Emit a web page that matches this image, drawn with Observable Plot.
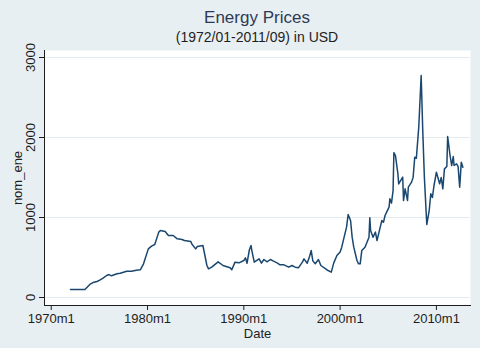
<!DOCTYPE html>
<html>
<head>
<meta charset="utf-8">
<script src="https://cdn.jsdelivr.net/npm/d3@7"></script>
<script src="https://cdn.jsdelivr.net/npm/@observablehq/plot@0.6"></script>
<style>
  html, body { margin: 0; padding: 0; background: #e8eff2; }
  #chart { position: relative; width: 480px; height: 348px; overflow: hidden;
           font-family: "Liberation Sans", Arial, Helvetica, sans-serif; }
  .title { position: absolute; left: 0; width: 514px; text-align: center;
           top: 8px; font-size: 17px; color: #2e3a55; line-height: 20px; }
  .subtitle { position: absolute; left: 0; width: 514px; text-align: center;
              top: 29px; font-size: 14px; color: #1e1e1e; line-height: 17px; }
  #plot { position: absolute; left: 0; top: 48px; }
  #plot svg { overflow: visible; }
</style>
</head>
<body>
<div id="chart">
  <div class="title">Energy Prices</div>
  <div class="subtitle">(1972/01-2011/09) in USD</div>
  <div id="plot"></div>
</div>
<script>
// Monthly dates (Stata %tm style) and nominal energy price index
const months = [
  "1972m1","1973m7","1974m2","1974m5","1974m10","1975m2","1975m6","1975m10","1976m1","1976m4",
  "1976m11","1977m3","1977m11","1978m5","1978m11","1979m4","1979m8","1980m2","1980m6","1980m10",
  "1981m3","1981m5","1981m11","1982m3","1982m9","1983m2","1983m8","1983m11","1984m7","1984m8",
  "1985m1","1985m3","1985m10","1986m3","1986m5","1986m9","1987m5","1987m11","1988m8","1988m10",
  "1989m2","1989m7","1990m1","1990m3","1990m5","1990m8","1990m10","1990m11","1991m2","1991m8",
  "1991m11","1992m2","1992m6","1992m10","1993m2","1993m7","1993m10","1994m3","1994m9","1995m1",
  "1995m5","1995m9","1996m2","1996m4","1996m8","1996m11","1997m1","1997m3","1997m6","1997m10",
  "1998m1","1998m7","1998m10","1999m2","1999m5","1999m9","2000m1","2000m3","2000m6","2000m9",
  "2000m11","2001m2","2001m4","2001m6","2001m10","2001m12","2002m2","2002m4","2002m8","2003m1",
  "2003m2","2003m3","2003m6","2003m9","2003m11","2004m3","2004m5","2004m7","2004m9","2004m11",
  "2005m2","2005m3","2005m5","2005m7","2005m8","2005m10","2006m1","2006m2","2006m4","2006m7",
  "2006m8","2006m10","2007m1","2007m2","2007m6","2007m8","2007m10","2007m12","2008m3","2008m6",
  "2008m8","2008m10","2009m1","2009m4","2009m6","2009m8","2009m10","2010m1","2010m2","2010m5",
  "2010m7","2010m9","2010m11","2011m2","2011m3","2011m6","2011m8","2011m10","2011m11","2012m2",
  "2012m4","2012m6","2012m8","2012m10"
];
const nomEne = [
  100, 100, 171, 187, 200, 221, 246, 275, 287, 271,
  296, 304, 329, 329, 341, 346, 421, 608, 642, 662,
  817, 837, 825, 775, 775, 733, 725, 712, 700, 671,
  608, 637, 650, 400, 358, 379, 446, 400, 371, 346,
  442, 433, 462, 496, 429, 600, 650, 587, 442, 483,
  429, 475, 446, 475, 454, 429, 408, 408, 379, 400,
  379, 371, 442, 483, 429, 517, 587, 458, 421, 475,
  400, 358, 337, 317, 430, 525, 570, 629, 754, 879,
  1037, 962, 754, 629, 462, 421, 421, 587, 629, 754,
  996, 837, 754, 817, 712, 879, 962, 940, 1025, 1067,
  1129, 1233, 1180, 1337, 1810, 1770, 1546, 1420, 1454, 1504,
  1212, 1358, 1212, 1379, 1442, 1504, 1754, 1740, 2129, 2775,
  2080, 1504, 912, 1087, 1296, 1250, 1400, 1567, 1530, 1421,
  1500, 1358, 1608, 1637, 2012, 1775, 1650, 1762, 1650, 1671,
  1640, 1379, 1692, 1629
];
const xTickLabels = ["1970m1", "1980m1", "1990m1", "2000m1", "2010m1"];
const yTicks = [0, 1000, 2000, 3000];

// "1972m1" -> 1972.0, "1972m7" -> 1972.5
const toYear = s => { const [y, m] = s.split("m").map(Number); return y + (m - 1) / 12; };
const data = months.map((m, i) => ({date: toYear(m), nom_ene: nomEne[i]}));
const xTicks = xTickLabels.map(toYear);

const navy = "#1a476f";
const ink = "#1e1e1e";
const gridColor = "#e3ebee";

const chart = Plot.plot({
  width: 480,
  height: 300,
  marginTop: 2,
  marginBottom: 43,
  marginLeft: 44,
  marginRight: 10,
  style: {background: "transparent", overflow: "visible", fontFamily: "'Liberation Sans', Arial, sans-serif", fontSize: "13px", color: ink},
  x: {domain: [1969.3, 2013.54]},
  y: {domain: [-100, 3087.5]},
  marks: [
    Plot.frame({fill: "white", stroke: null}),
    Plot.gridY(yTicks, {stroke: gridColor, strokeOpacity: 1, strokeWidth: 1}),
    Plot.line(data, {x: "date", y: "nom_ene", stroke: navy, strokeWidth: 1.5}),
    Plot.frame({anchor: "left", stroke: ink, strokeWidth: 1}),
    Plot.frame({anchor: "bottom", stroke: ink, strokeWidth: 1}),
    Plot.axisY(yTicks, {
      tickSize: 5, tickPadding: 5, tickRotate: -90, stroke: ink, fill: ink,
      tickFormat: d => String(d),
      label: "nom_ene", labelAnchor: "center", labelOffset: 32, labelArrow: "none"
    }),
    Plot.axisX(xTicks, {
      tickSize: 5, tickPadding: 3, stroke: ink, fill: ink,
      tickFormat: (d, i) => xTickLabels[i],
      label: "Date", labelAnchor: "center", labelOffset: 32, labelArrow: "none"
    })
  ]
});
document.getElementById("plot").appendChild(chart);
</script>
</body>
</html>
